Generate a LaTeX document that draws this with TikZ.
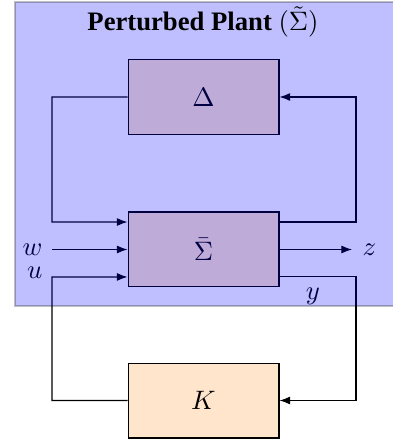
\documentclass[tikz,border=0pt]{standalone}
\usepackage{fontspec}
\setmainfont{Liberation Serif}
\usetikzlibrary{arrows.meta}
\begin{document}
\begin{tikzpicture}[x=0.375pt,y=-0.375pt,
  blockbox/.style={draw, fill=orange!20, minimum width=56.6pt, minimum height=28.1pt, inner sep=0pt},
  conn/.style={-{Latex[length=4pt,width=3pt]}},
  plain/.style={}]
\useasboundingbox (0,0) rectangle (392,440);
\node[blockbox] (D) at (203.5,97) {$\Delta$};
\node[blockbox] (S) at (203.5,249.5) {$\bar{\Sigma}$};
\node[blockbox] (K) at (203.5,400.5) {$K$};
\coordinate (tl) at (52,97);
\coordinate (tr) at (356,97);
\coordinate (wl) at (52,249.5);
\coordinate (ze) at (352,249.5);
% upper loop
\draw[conn] (D.west) -| (52,222) -- ([yshift=10.3pt]S.west);
\draw[conn] ([yshift=10.3pt]S.east) -| (tr) -- (D.east);
% w and z
\draw[conn] (wl) -- (S.west);
\node[anchor=east, inner sep=0pt] (w) at (43,249.5) {$w$};
\draw[conn] (S.east) -- (ze);
\node[anchor=west, inner sep=0pt] (z) at (362,249.5) {$z$};
% lower loop
\draw[conn] (K.west) -| (52,277) -- ([yshift=-10.3pt]S.west);
\node[anchor=east, inner sep=0pt] (u) at (43,273) {$u$};
\draw[conn] ([yshift=-10.3pt]S.east) -| (356,400.5) -- (K.east);
\node[inner sep=0pt] (y) at (313,296) {$y$};
% overlay
\draw[fill=blue, opacity=0.25] (15,2) rectangle (400,306);
\node (title) at (203,22) {\textbf{Perturbed Plant} $(\tilde{\Sigma})$};
\end{tikzpicture}
\end{document}
